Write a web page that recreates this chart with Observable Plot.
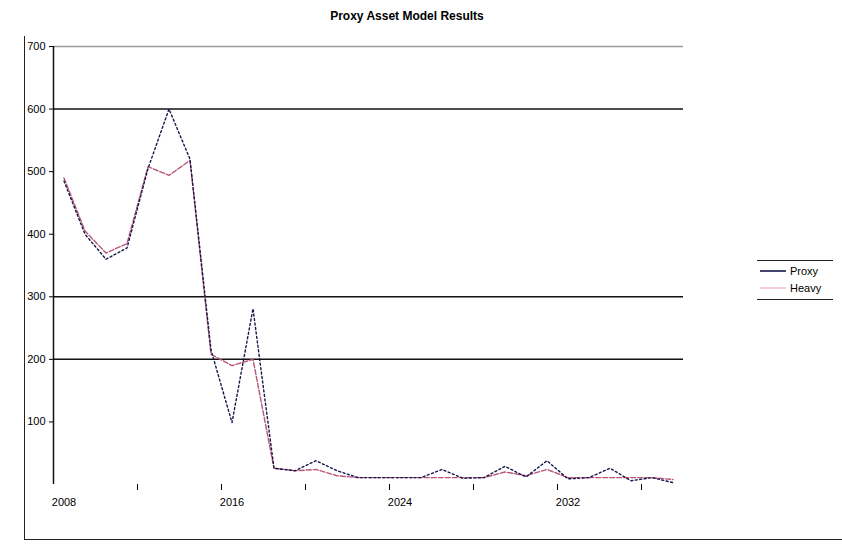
<!DOCTYPE html>
<html>
<head>
<meta charset="utf-8">
<script src="https://cdn.jsdelivr.net/npm/d3@7"></script>
<script src="https://cdn.jsdelivr.net/npm/@observablehq/plot@0.6"></script>
<style>
  html, body { margin: 0; padding: 0; background: #fff; }
  #wrap { position: relative; width: 842px; height: 545px; overflow: hidden;
          font-family: "Liberation Sans", Arial, sans-serif; color: #000; }
  #chart { position: absolute; left: 0; top: 0; }
  #border { position: absolute; left: 24px; top: 36px; width: 818px; height: 503px;
            border-left: 1.5px solid #222; border-bottom: 1.5px solid #222; pointer-events: none; }
  #title { position: absolute; left: 0; width: 814px; top: 9px; text-align: center;
           font-size: 12px; font-weight: bold; }
  #legend { position: absolute; left: 757px; top: 260px; width: 76px; height: 38px;
            border-top: 1.5px solid #222; border-bottom: 1.5px solid #222; font-size: 11px; }
  .item { position: absolute; left: 3px; display: flex; align-items: center; height: 14px; }
  .item svg { margin-right: 4px; }
</style>
</head>
<body>
<div id="wrap">
  <div id="chart"></div>
  <div id="border"></div>
  <div id="title">Proxy Asset Model Results</div>
  <div id="legend"></div>
</div>
<script>
// Projection years
const years = [2008, 2009, 2010, 2011, 2012, 2013, 2014, 2015, 2016, 2017,
               2018, 2019, 2020, 2021, 2022, 2023, 2024, 2025, 2026, 2027,
               2028, 2029, 2030, 2031, 2032, 2033, 2034, 2035, 2036, 2037];

// Proxy model results
const proxy = [485, 400, 360, 378, 505, 600, 520, 215, 99, 281,
               26, 22, 38, 22, 11, 11, 11, 11, 24, 10,
               11, 29, 12, 38, 9, 11, 26, 6, 11, 3];

// Heavy model results
const heavy = [490, 405, 370, 385, 508, 494, 518, 208, 190, 200,
               26, 22, 24, 14, 11, 11, 11, 11, 11, 11,
               11, 20, 14, 24, 11, 11, 11, 11, 11, 8];

const seriesNames = ["Proxy", "Heavy"];
const seriesColors = ["#16164f", "#b85578"];

const yTicks = [100, 200, 300, 400, 500, 600, 700];
const gridValues = [700, 600, 300, 200];
const labelYears = [2008, 2016, 2024, 2032];

// tick marks sit on category boundaries, every fourth year
const boundaries = years.filter((y, i) => i > 0 && i % 4 === 0).map(y => y - 0.5);

const table = years.map((year, i) => ({year, proxy: proxy[i], heavy: heavy[i]}));

const chart = Plot.plot({
  width: 842,
  height: 545,
  marginLeft: 53,
  marginRight: 159,
  marginTop: 46,
  marginBottom: 61,
  style: {fontFamily: "'Liberation Sans', Arial, sans-serif", fontSize: "11px", background: "transparent", color: "#000"},
  x: {domain: [years[0] - 0.5, years[years.length - 1] + 0.5]},
  y: {domain: [0, 700]},
  marks: [
    Plot.ruleY(gridValues, {stroke: d => d === 700 ? "#9a9a9a" : "#111", strokeWidth: 1.5}),
    Plot.ruleX([years[0] - 0.5], {y1: 0, y2: 700, stroke: "#111", strokeWidth: 1.5}),
    Plot.axisY({ticks: yTicks, tickSize: 4, tickPadding: 4, label: null, tickFormat: d => String(d)}),
    Plot.axisX({ticks: boundaries, tickSize: 6, tickFormat: () => "", label: null}),
    Plot.axisX({ticks: labelYears, tickSize: 0, tickPadding: 14, label: null, tickFormat: d => String(d)}),
    Plot.line(table, {x: "year", y: "heavy", stroke: seriesColors[1], strokeWidth: 1.4, strokeDasharray: "5,2"}),
    Plot.line(table, {x: "year", y: "proxy", stroke: seriesColors[0], strokeWidth: 1.4, strokeDasharray: "2,2.5"})
  ]
});
document.getElementById("chart").appendChild(chart);

// legend entries
const legend = document.getElementById("legend");
seriesNames.forEach((name, i) => {
  const item = document.createElement("div");
  item.className = "item";
  item.style.top = (3 + i * 17) + "px";
  item.innerHTML = `<svg width="26" height="4"><line x1="0" y1="2" x2="26" y2="2" stroke="${i === 0 ? seriesColors[0] : "#f2c4d0"}" stroke-width="1.6"/></svg><span>${name}</span>`;
  legend.appendChild(item);
});
</script>
</body>
</html>
